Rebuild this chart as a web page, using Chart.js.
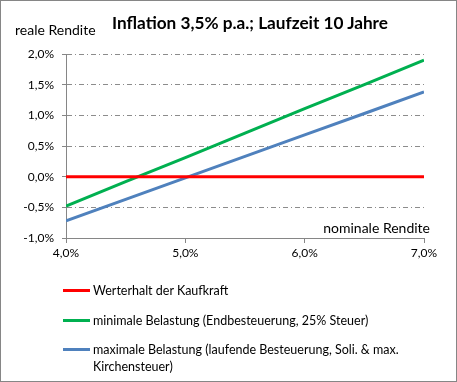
<!DOCTYPE html>
<html>
<head>
<meta charset="utf-8">
<script src="https://cdn.jsdelivr.net/npm/chart.js@4"></script>
<style>
  html, body { margin: 0; padding: 0; background: #fff; }
  #wrap { position: relative; width: 457px; height: 382px; overflow: hidden; font-family: Lato, "Open Sans", sans-serif; color: #000; }
  #c { position: absolute; left: 0; top: 0; }
  #frame { position: absolute; left: 0; top: 0; width: 455px; height: 380px; border: 1px solid #868686; pointer-events: none; }
  .txt { position: absolute; white-space: nowrap; }
  #title { left: 0; width: 500px; text-align: center; top: 12px; font-size: 17.2px; font-weight: bold; }
  #ylab { left: 15px; top: 21px; font-size: 14px; }
  #xlab { right: 27px; top: 219px; font-size: 14px; }
  #legend { position: absolute; left: 63px; top: 282px; width: 345px; font-size: 12.5px; }
  .item { position: relative; padding-left: 30px; line-height: 17px; margin-bottom: 12.5px; white-space: normal; }
  .item .sw { position: absolute; left: 0; top: 7px; width: 27px; height: 3px; }
</style>
</head>
<body>
<div id="wrap">
  <canvas id="c" width="457" height="382"></canvas>
  <div id="title" class="txt">Inflation 3,5% p.a.; Laufzeit 10 Jahre</div>
  <div id="ylab" class="txt">reale Rendite</div>
  <div id="xlab" class="txt">nominale Rendite</div>
  <div id="legend"></div>
  <div id="frame"></div>
</div>
<script>
const nominal = [4.0, 4.5, 5.0, 5.5, 6.0, 6.5, 7.0];
const werterhalt = [0, 0, 0, 0, 0, 0, 0];
const minimal = [-0.48, -0.08, 0.31, 0.71, 1.11, 1.50, 1.90];
const maximal = [-0.72, -0.37, -0.02, 0.33, 0.68, 1.03, 1.38];
const seriesLabels = [
  "Werterhalt der Kaufkraft",
  "minimale Belastung (Endbesteuerung, 25% Steuer)",
  "maximale Belastung (laufende Besteuerung, Soli. & max. Kirchensteuer)"
];
const xTicks = [4, 5, 6, 7];
const yTicks = [-1.0, -0.5, 0.0, 0.5, 1.0, 1.5, 2.0];
const colors = ["#ff0000", "#00b050", "#4f81bd"];

const fmt = v => v.toFixed(1).replace('.', ',') + '%';
const toPts = arr => arr.map((y, i) => ({ x: nominal[i], y }));
const seriesData = [werterhalt, minimal, maximal];

const chart = new Chart(document.getElementById('c'), {
  type: 'line',
  data: {
    datasets: seriesData.map((d, i) => ({
      label: seriesLabels[i],
      data: toPts(d),
      borderColor: colors[i],
      backgroundColor: colors[i],
      borderWidth: 3,
      pointRadius: 0,
      tension: 0,
      fill: false
    }))
  },
  options: {
    responsive: false,
    animation: false,
    layout: { padding: { left: 0, right: 33, top: 54, bottom: 0 } },
    plugins: { legend: { display: false }, tooltip: { enabled: false }, title: { display: false } },
    scales: {
      x: {
        type: 'linear',
        min: 4, max: 7,
        afterBuildTicks: s => { s.ticks = xTicks.map(v => ({ value: v })); },
        afterFit: s => { s.height = 144; },
        grid: { drawOnChartArea: false, drawTicks: true, tickLength: 5, color: '#868686', tickColor: '#868686' },
        border: { color: '#868686', width: 1 },
        ticks: { callback: v => fmt(v), color: '#000', font: { family: 'Lato', size: 12 }, padding: 3, maxRotation: 0 }
      },
      y: {
        min: -1, max: 2,
        afterBuildTicks: s => { s.ticks = yTicks.map(v => ({ value: v })); },
        afterFit: s => { s.width = 66; },
        grid: {
          drawOnChartArea: true, drawTicks: true, tickLength: 4, lineWidth: 1,
          color: ctx => (ctx.tick && ctx.tick.value === -1) ? 'rgba(0,0,0,0)' : '#8c8c8c',
          tickColor: '#868686'
        },
        border: { color: '#868686', width: 1, dash: [5, 3, 1, 3] },
        ticks: { callback: v => fmt(v), color: '#000', font: { family: 'Lato', size: 12 }, padding: 8 }
      }
    }
  }
});

// legend
const leg = document.getElementById('legend');
chart.data.datasets.forEach(ds => {
  const it = document.createElement('div');
  it.className = 'item';
  const sw = document.createElement('span');
  sw.className = 'sw';
  sw.style.background = ds.borderColor;
  it.appendChild(sw);
  it.appendChild(document.createTextNode(ds.label));
  leg.appendChild(it);
});
</script>
</body>
</html>
